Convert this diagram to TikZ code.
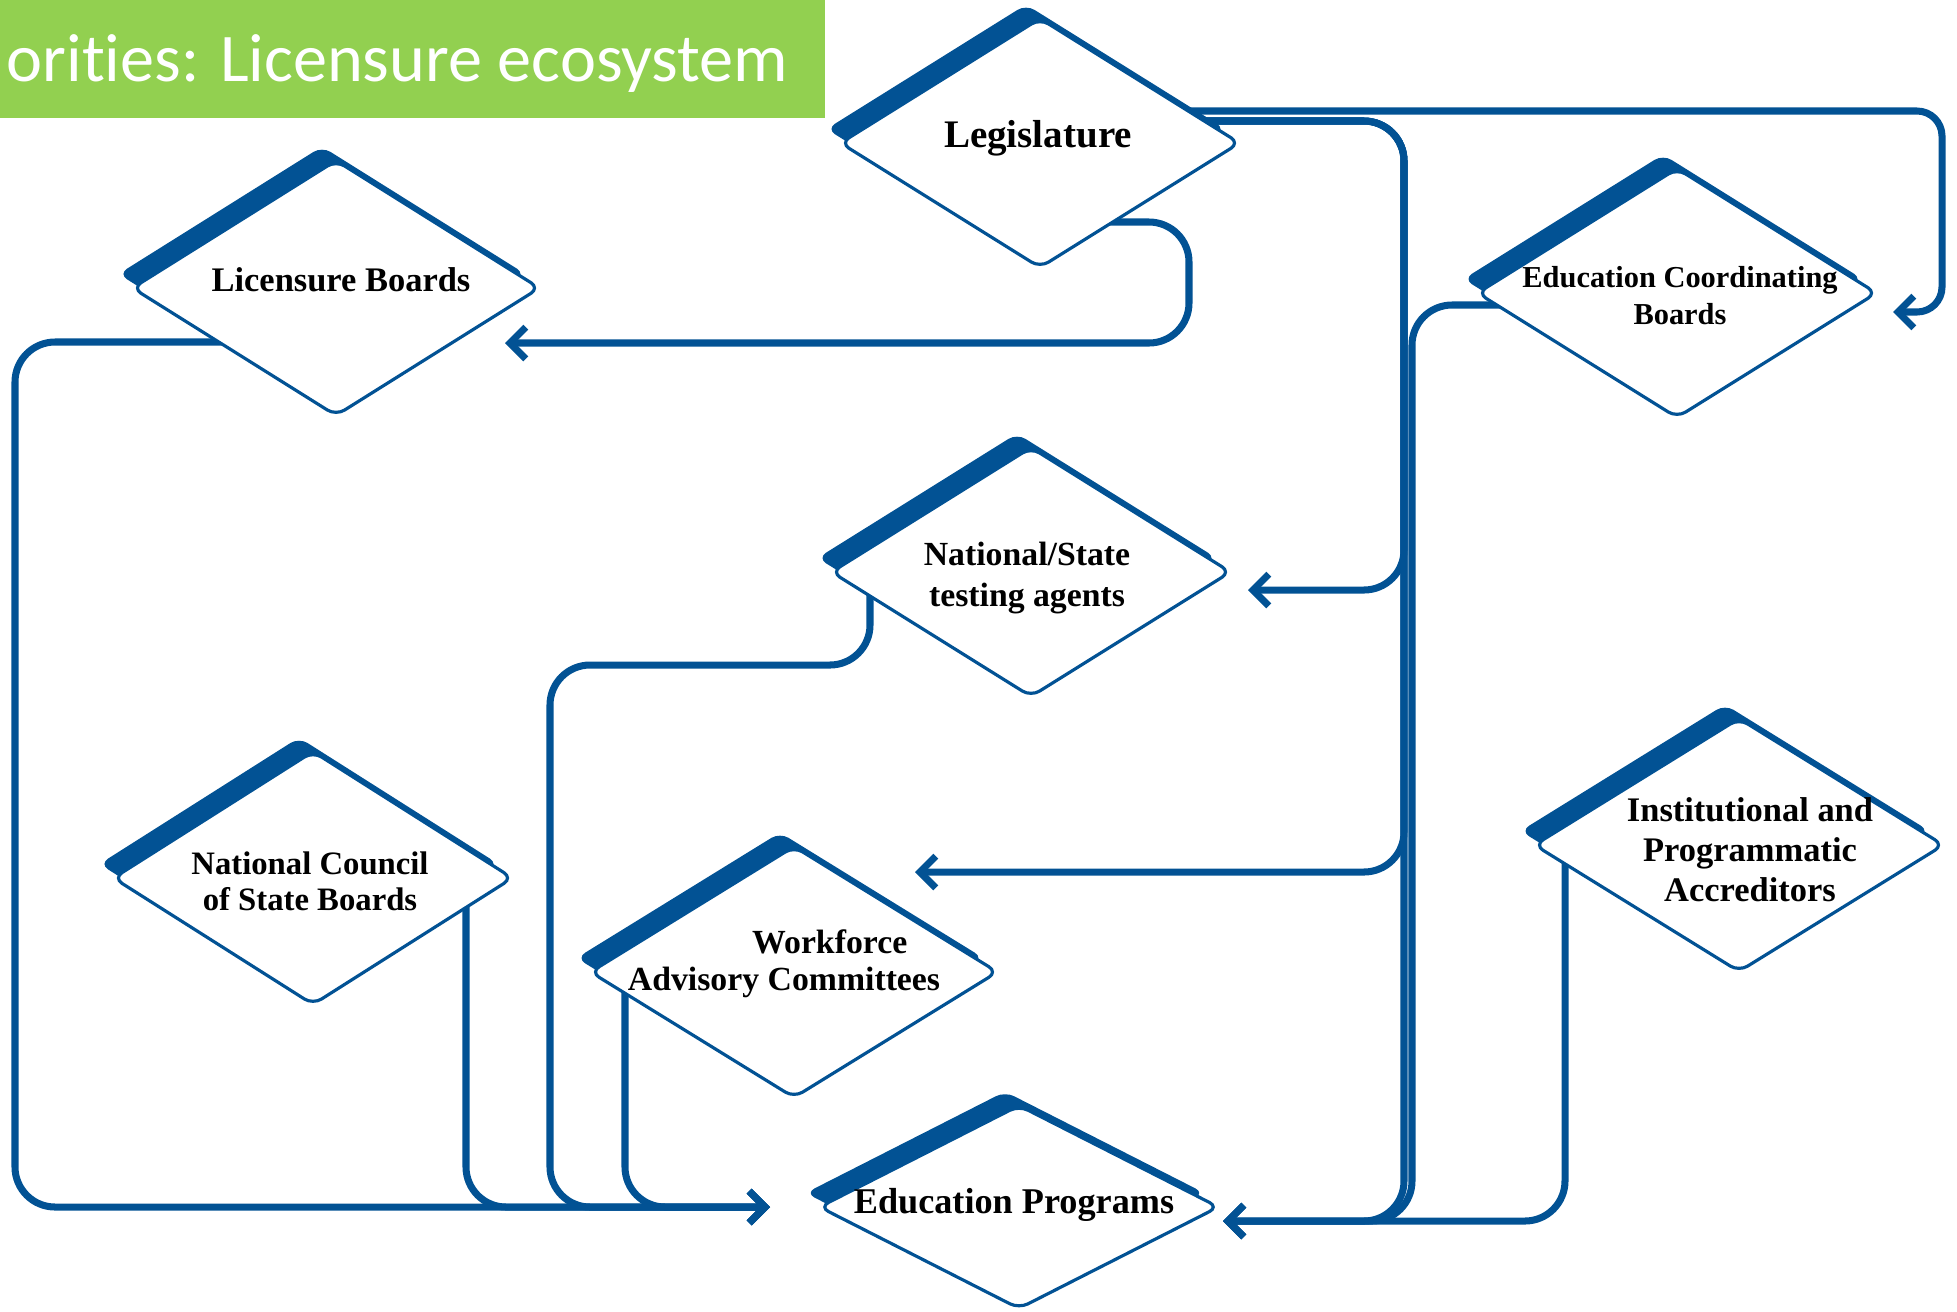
\documentclass[tikz,border=0pt]{standalone}
\usepackage{fontspec}
\setmainfont{Liberation Serif}
\newfontfamily\titlefont[Ligatures=NoCommon]{Carlito}
\usetikzlibrary{shapes.geometric,shadows,arrows.meta,backgrounds}

\definecolor{lblue}{RGB}{2,82,148}
\definecolor{lgreen}{RGB}{146,208,80}

\newcommand{\dsize}[2]{\fontsize{#1}{#2}\selectfont\bfseries}

\begin{document}
\begin{tikzpicture}[x=0.01cm, y=-0.01cm]

\tikzset{Agency/.style = {diamond, draw=lblue, line width=0.9pt, fill=white,
    minimum width=4cm, minimum height=2.5cm, inner sep=0pt, rounded corners=1mm,
    general shadow={shadow xshift=-1.4mm, shadow yshift=1.4mm, fill=lblue}},
  AgencyText/.style = {align=center, inner sep=0pt},
  Link/.style = {draw=lblue, line width=2pt, rounded corners=4mm,
    -{Straight Barb[length=4.5pt, width=9pt]}}}

\useasboundingbox (0,0) rectangle (1957,1311);

\fill[lgreen] (0,0) rectangle (825,118);
\node[anchor=base west, text=white, inner sep=0pt,
  font=\titlefont\fontsize{19.4}{23}\selectfont] (title) at (6,81) {orities: Licensure ecosystem};

\node[Agency] (leg)  at (1040,143) {};
\node[Agency, minimum width=4.08cm, minimum height=2.56cm] (lb) at (336,288) {};
\node[Agency] (ecb)  at (1677,293) {};
\node[Agency] (ns)   at (1031,572) {};
\node[Agency, minimum height=2.54cm] (ncsb) at (313,878) {};
\node[Agency, minimum width=4.08cm, minimum height=2.52cm] (wac) at (794,972) {};
\node[Agency, minimum height=2.04cm] (ep) at (1019,1207) {};
\node[Agency, minimum width=4.1cm, minimum height=2.54cm] (ipa) at (1739,845) {};

\node[AgencyText, font=\dsize{11.1}{13}] (legt) at (1038,138) {Legislature};
\node[AgencyText, font=\dsize{9.8}{11.5}] (lbt) at (341,280) {Licensure Boards};
\node[AgencyText, font=\dsize{8.65}{10.5}] (ecbt) at (1680,296) {Education Coordinating\\Boards};
\node[AgencyText, font=\dsize{9.6}{11.7}] (nst) at (1027,578) {National/State\\testing agents};
\node[AgencyText, font=\dsize{9.3}{10.3}] (ncsbt) at (310,881) {National Council\\of State Boards};
\node[AgencyText, font=\dsize{9.6}{10.5}] (wact) at (784,964) {\hspace*{26pt}Workforce\\Advisory Committees};
\node[AgencyText, font=\dsize{10.3}{12}] (ept) at (1014,1205) {Education Programs};
\node[AgencyText, font=\dsize{9.8}{11.4}] (ipat) at (1750,850) {Institutional and\\Programmatic\\Accreditors};

% arrow ends
\coordinate (lbin)   at ([shift={(169,55)}]lb.center);
\coordinate (ecbin)  at ([shift={(216,19)}]ecb.center);
\coordinate (nsin)   at ([shift={(217,18)}]ns.center);
\coordinate (wacin)  at ([shift={(121,-100)}]wac.center);
\coordinate (epin)   at ([shift={(204,14)}]ep.center);
\coordinate (epleft) at ([shift={(-249,0)}]ep.center);
\coordinate (trunk)  at (1404,0);
\coordinate (trunkb) at (1412,0);

\begin{scope}[on background layer]
  \draw[Link] ([shift={(60,79)}]leg.center) -| (1189,343) -- (lbin);
  \draw[Link, rounded corners=2.5mm] ([shift={(110,-32)}]leg.center) -| (1942,312) -- (ecbin);
  \foreach \dest in {nsin, wacin, epin}
    \draw[Link] ([shift={(110,-22)}]leg.center) -| (trunk |- \dest) -- (\dest);
  \draw[Link] ([shift={(-157,12)}]ecb.center) -| (trunkb |- epin) -- (epin);
  \draw[Link] ([shift={(-174,0)}]ipa.center) |- (epin);

  \draw[Link] ([shift={(-76,54)}]lb.center) -| (15,1207) -- (epleft);
  \draw[Link] ([shift={(153,2)}]ncsb.center) |- (epleft);
  \draw[Link] ([shift={(-161,8)}]ns.center) -- ++(0,85) -| (550,1207) -- (epleft);
  \draw[Link] ([shift={(-169,3)}]wac.center) |- (epleft);
\end{scope}

\end{tikzpicture}
\end{document}
